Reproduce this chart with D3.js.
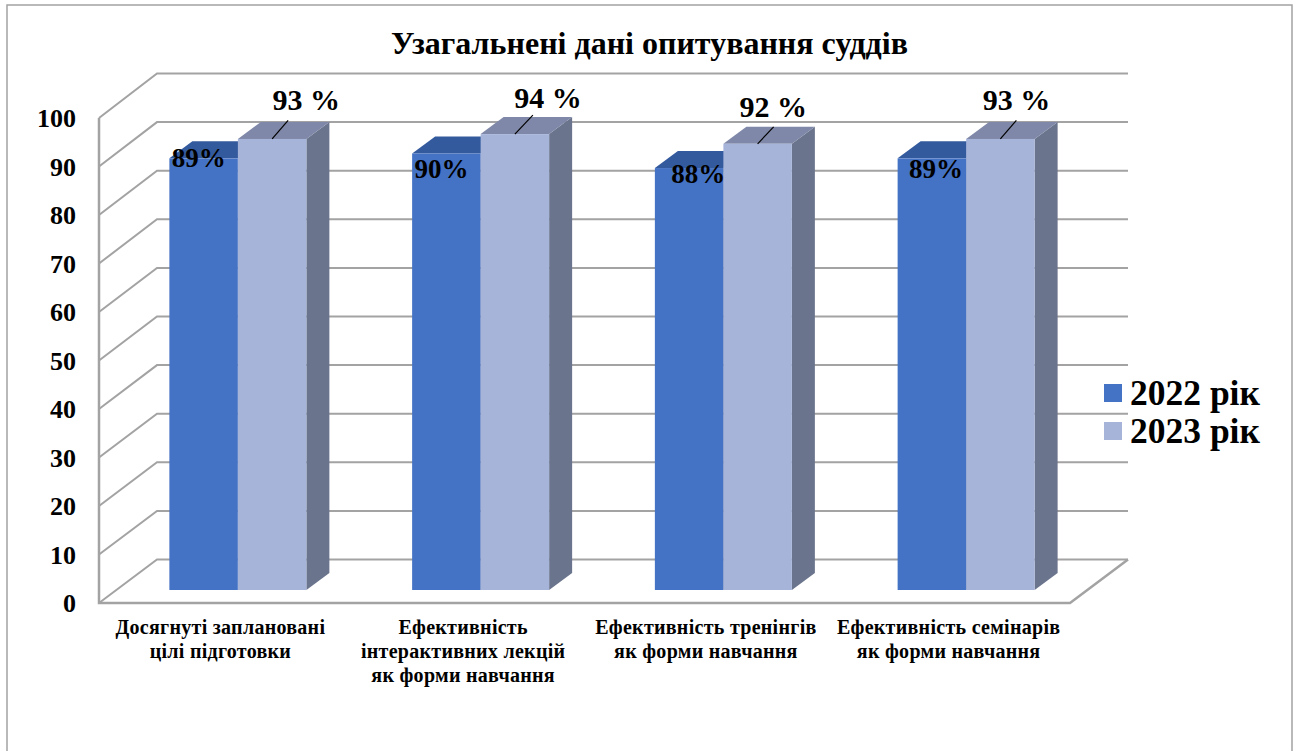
<!DOCTYPE html>
<html><head><meta charset="utf-8">
<script src="https://cdn.jsdelivr.net/npm/d3@7/dist/d3.min.js"></script>
<style>html,body{margin:0;padding:0;background:#fff}svg{display:block}text{font-family:"Liberation Serif",serif;font-weight:bold;fill:#000}</style>
</head><body><svg id="c" width="1298" height="751"></svg>
<script>
const titleText = "Узагальнені дані опитування суддів";
const categories = [
  ["Досягнуті заплановані","цілі підготовки"],
  ["Ефективність","інтерактивних лекцій","як форми навчання"],
  ["Ефективність тренінгів","як форми навчання"],
  ["Ефективність семінарів","як форми навчання"]
];
const seriesNames = ["2022 рік","2023 рік"];
// bar heights as drawn; the third 2022 bar is drawn at 87 though its label reads 88%
const values2022 = [89,90,87,89];
const values2023 = [93,94,92,93];
const labels2022 = ["89%","90%","88%","89%"];
const labels2023 = ["93 %","94 %","92 %","93 %"];
const yTicks = d3.range(0,101,10);

// manual label placement, as in the original chart
const nudge2022 = [[-5,9],[-5,24],[9,15],[4,20]];
const nudge2023 = [[34,-29],[33,-26],[15.5,-27],[16,-29]];
const leader2023 = [[16,-18.5],[18,-19],[16,-17],[16,-18.5]];

const svg = d3.select("#c");
const depth = {x:58,y:-44};
const barDepth = {x:23,y:-17};
const keys = d3.range(categories.length);

const yFront = d3.scaleLinear().domain([0,100]).range([603,118]);
const yBack  = d3.scaleLinear().domain([0,100]).range([559.5,73.5]);
const yBar   = d3.scaleLinear().domain([0,100]).range([590,105]);
const xFront = d3.scaleBand().domain(keys).range([99,1070]);
const xBars  = d3.scaleBand().domain(keys).range([116.5,1087.5]);
const xSeries = d3.scaleBand().domain([0,1]).range([0,137]);
const groupX = i => xBars(i)+xBars.bandwidth()/2-xSeries.bandwidth();

const grid = "#a3a3a3";
const colors = [
 {front:"#4472c4",top:"#345a9e",side:"#35568f"},
 {front:"#a6b4da",top:"#7f88a8",side:"#6a748c"}
];

// frame
svg.append("path").attr("d","M7,751V5H1292V751").attr("fill","none").attr("stroke","#a3a3a3").attr("stroke-width",1.5);

// title
svg.append("text").attr("x",649.5).attr("y",54).attr("text-anchor","middle").attr("font-size",32).text(titleText);

// walls
const x0=xFront.range()[0], x1=xFront.range()[1];
const g = svg.append("g").attr("fill","none").attr("stroke",grid).attr("stroke-width",2);
g.selectAll("path.grid").data(yTicks).join("path").attr("class","grid")
 .attr("d",d=>`M${x0},${yFront(d)}L${x0+depth.x},${yBack(d)}H${x1+depth.x}`);
g.append("path").attr("d",`M${x0},${yFront(100)}V${yFront(0)}H${x1}L${x1+depth.x},${yBack(0)}`).attr("stroke-width",2.5);

// y tick labels
svg.selectAll("text.ytick").data(yTicks).join("text").attr("class","ytick")
 .attr("x",76).attr("y",d=>yFront(d)+9).attr("text-anchor","end").attr("font-size",26).text(d=>d);

// category labels
const cat = svg.selectAll("text.cat").data(categories).join("text").attr("class","cat")
 .attr("text-anchor","middle").attr("font-size",20).attr("letter-spacing",0.28);
cat.selectAll("tspan").data((d,i)=>d.map(t=>({t,i}))).join("tspan")
 .attr("x",d=>xFront(d.i)+xFront.bandwidth()/2)
 .attr("y",(d,j)=>634+j*24)
 .text(d=>d.t);

// bars
const barL=(i,s)=>groupX(i)+xSeries(s), barW=xSeries.bandwidth();
function drawBar(sel,v,i,s){
  const c=colors[s], l=barL(i,s), r=l+barW, y=yBar(v), y0=yBar(0);
  sel.append("path").attr("fill",c.side)
    .attr("d",`M${r},${y}l${barDepth.x},${barDepth.y}V${y0+barDepth.y}L${r},${y0}Z`);
  sel.append("path").attr("fill",c.top)
    .attr("d",`M${l},${y}l${barDepth.x},${barDepth.y}h${barW}l${-barDepth.x},${-barDepth.y}Z`);
  sel.append("rect").attr("fill",c.front).attr("x",l).attr("y",y).attr("width",barW).attr("height",y0-y);
}
keys.forEach(i=>{
  const bg=svg.append("g");
  drawBar(bg,values2022[i],i,0);
  drawBar(bg,values2023[i],i,1);
});

// data labels and leader lines
keys.forEach(i=>{
  const c0=barL(i,0)+barW/2, c1=barL(i,1)+barW/2;
  svg.append("text").attr("x",c0+nudge2022[i][0]).attr("y",yBar(values2022[i])+nudge2022[i][1])
    .attr("text-anchor","middle").attr("font-size",27).text(labels2022[i]);
  svg.append("text").attr("x",c1+nudge2023[i][0]).attr("y",yBar(values2023[i])+nudge2023[i][1])
    .attr("text-anchor","middle").attr("font-size",30).text(labels2023[i]);
  svg.append("line").attr("x1",c1).attr("y1",yBar(values2023[i]))
    .attr("x2",c1+leader2023[i][0]).attr("y2",yBar(values2023[i])+leader2023[i][1])
    .attr("stroke","#000").attr("stroke-width",1.2);
});

// legend
const legendY = d3.scaleBand().domain([0,1]).range([374,450]);
seriesNames.forEach((n,s)=>{
  svg.append("rect").attr("x",1104).attr("y",legendY(s)+10).attr("width",18).attr("height",18).attr("fill",colors[s].front);
  svg.append("text").attr("x",1130).attr("y",legendY(s)+31).attr("font-size",35.5).text(n);
});
</script></body></html>
